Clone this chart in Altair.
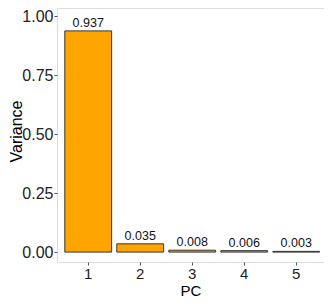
import altair as alt
import pandas as pd

pcs = ["1", "2", "3", "4", "5"]
variance = [0.937, 0.035, 0.008, 0.006, 0.003]

df = pd.DataFrame({"PC": pcs, "Variance": variance})

FONT = "Liberation Sans"

x = alt.X(
    "PC:N",
    sort=pcs,
    scale=alt.Scale(paddingInner=0.1, paddingOuter=0.1175, align=0.64),
    axis=alt.Axis(
        title="PC", labelAngle=0, labelFontSize=15, titleFontSize=15,
        labelColor="#222", titleColor="#000", tickColor="#555", tickSize=3,
        domain=False, labelPadding=1, titlePadding=2, titleFontWeight="normal",
        labelFont=FONT, titleFont=FONT,
    ),
)
y = alt.Y(
    "Variance:Q",
    scale=alt.Scale(domain=[-0.042, 1.034], nice=False, zero=False),
    axis=alt.Axis(
        title="Variance", values=[0, 0.25, 0.5, 0.75, 1.0], format=".2f",
        labelFontSize=16, titleFontSize=16, labelColor="#222", titleColor="#000",
        tickColor="#555", tickSize=3, domain=False, grid=False, labelPadding=1,
        titleX=-49, titleY=123, titleAngle=270, titleBaseline="top",
        titleAlign="center", titleFontWeight="normal", labelFont=FONT,
        titleFont=FONT,
    ),
)

bars = alt.Chart(df).mark_bar(
    color="#FFA500", stroke="#333333", strokeWidth=1
).encode(x=x, y=y, y2=alt.datum(0))

labels = alt.Chart(df).mark_text(
    baseline="bottom", dy=-1, fontSize=12.5, font=FONT, color="#111"
).encode(x=x, y=y, text=alt.Text("Variance:Q", format=".3f"))

chart = (
    (bars + labels)
    .properties(
        width=267, height=254,
        autosize=alt.AutoSizeParams(type="none"),
        padding={"left": 49, "top": 0, "right": 0, "bottom": 35},
    )
    .configure_view(stroke="#555555", strokeWidth=1)
    .configure(background="white")
)

chart.save("out.html", embed_options={"renderer": "svg", "actions": False})
